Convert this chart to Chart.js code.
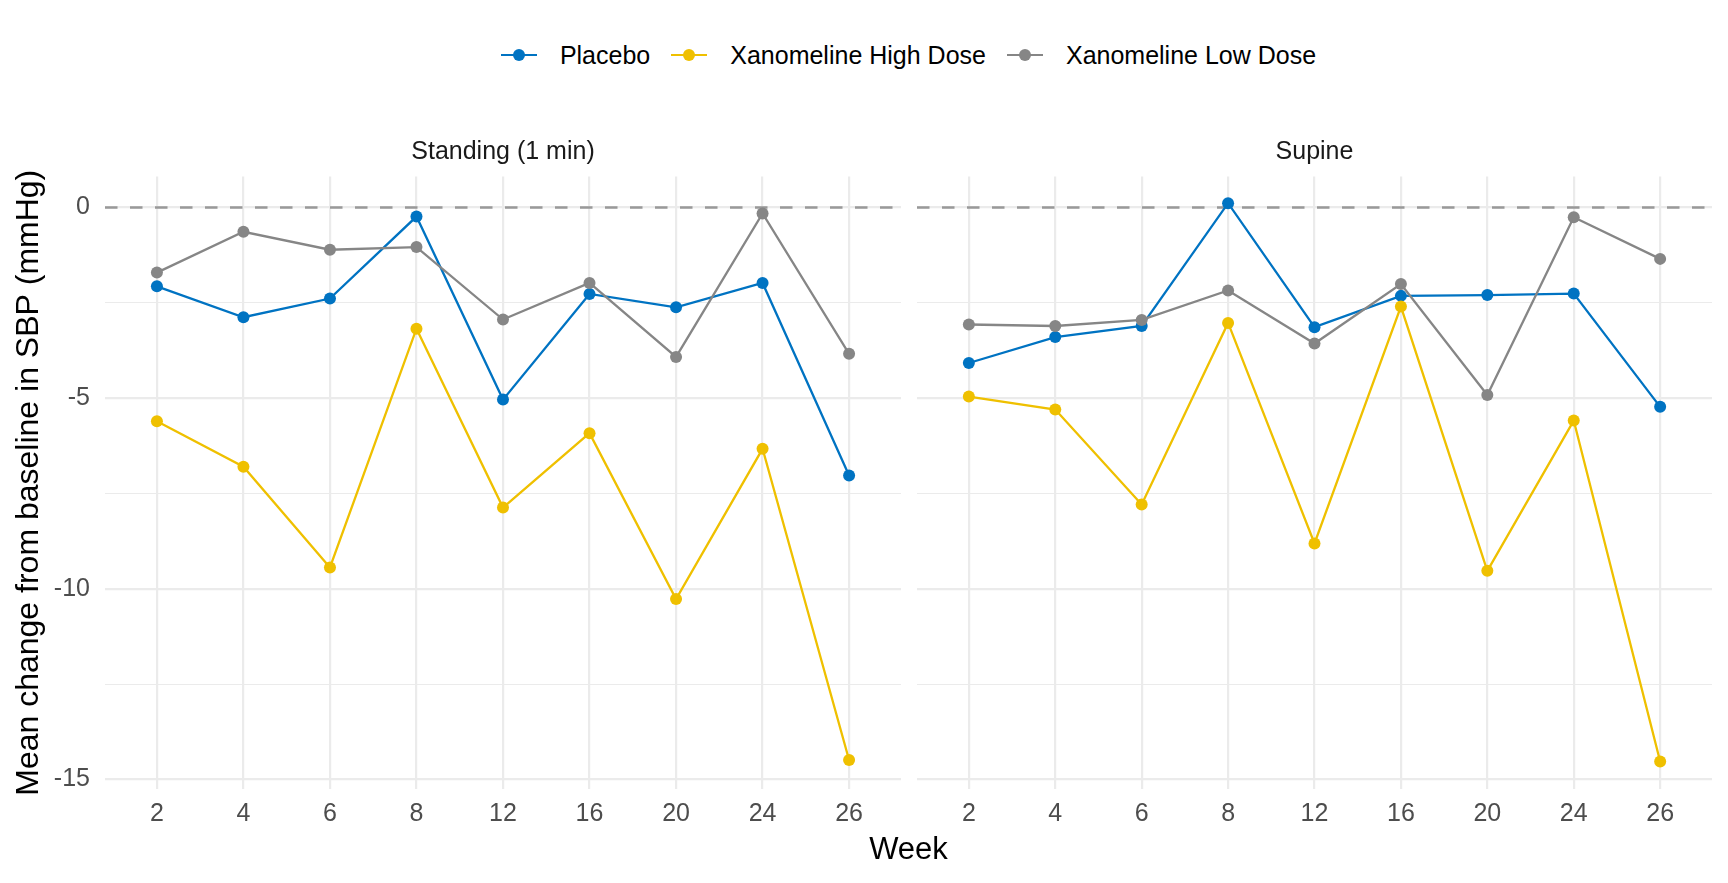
<!DOCTYPE html>
<html>
<head>
<meta charset="utf-8">
<script src="https://cdn.jsdelivr.net/npm/chart.js@4/dist/chart.umd.min.js"></script>
<style>
    body { margin: 0; background: #fff; font-family: "Liberation Sans", Arial, sans-serif; }
    #page { position: relative; width: 1728px; height: 883px; overflow: hidden; }
    .panel { position: absolute; top: 136px; height: 713px; }
    #legend {
        position: absolute; left: 105px; width: 1607px; top: 42.5px;
        display: flex; justify-content: center; align-items: center;
        font-size: 25px; line-height: 25px; color: #000;
    }
    .item { display: flex; align-items: center; margin: 0 10.5px; }
    .key { position: relative; width: 36px; height: 25px; margin-right: 23px; }
    .key .ln { position: absolute; left: 0; right: 0; top: 11.4px; height: 2.3px; }
    .key .dot { position: absolute; left: 12px; top: 6.5px; width: 12px; height: 12px; border-radius: 50%; }
    #xtitle {
        position: absolute; left: 105px; width: 1607px; top: 833px;
        text-align: center; font-size: 31px; line-height: 31px; color: #000;
    }
</style>
</head>
<body>
<div id="page">
    <div id="legend"></div>
    <div class="panel" style="left:0; width:901px;"><canvas id="standingChart"></canvas></div>
    <div class="panel" style="left:917px; width:795px;"><canvas id="supineChart"></canvas></div>
    <div id="xtitle">Week</div>
</div>
<script>
// --- Data ---
const weeks = [2, 4, 6, 8, 12, 16, 20, 24, 26];
const seriesNames = ['Placebo', 'Xanomeline High Dose', 'Xanomeline Low Dose'];
const seriesColors = ['#0073C2', '#EFC000', '#868686'];

const standingPlacebo = [-2.07, -2.88, -2.39, -0.24, -5.04, -2.27, -2.62, -1.98, -7.03];
const standingHigh    = [-5.61, -6.80, -9.44, -3.18, -7.87, -5.92, -10.27, -6.33, -14.49];
const standingLow     = [-1.71, -0.64, -1.11, -1.04, -2.94, -1.98, -3.92, -0.16, -3.84];

const supinePlacebo = [-4.08, -3.40, -3.11, 0.11, -3.14, -2.32, -2.30, -2.26, -5.23];
const supineHigh    = [-4.96, -5.30, -7.79, -3.03, -8.81, -2.60, -9.53, -5.59, -14.53];
const supineLow     = [-3.07, -3.11, -2.95, -2.18, -3.57, -2.01, -4.92, -0.26, -1.35];

const yTicks = [-15, -12.5, -10, -7.5, -5, -2.5, 0];
const yMin = -15.25, yMax = 0.81;
const xMin = -0.6, xMax = weeks.length - 1 + 0.6;
const refValue = 0;

Chart.defaults.font.family = '"Liberation Sans", Arial, sans-serif';

// --- Legend ---
const legendEl = document.getElementById('legend');
seriesNames.forEach((name, i) => {
    const item = document.createElement('div');
    item.className = 'item';
    item.innerHTML = `<span class="key"><span class="ln" style="background:${seriesColors[i]}"></span>` +
        `<span class="dot" style="background:${seriesColors[i]}"></span></span><span>${name}</span>`;
    legendEl.appendChild(item);
});

function toPoints(values) {
    return values.map((v, i) => ({ x: i, y: v }));
}

function makeChart(canvasId, title, values, showY) {
    const ctx = document.getElementById(canvasId).getContext('2d');
    const datasets = values.map((vals, i) => ({
        label: seriesNames[i],
        data: toPoints(vals),
        borderColor: seriesColors[i],
        backgroundColor: seriesColors[i],
        borderWidth: 2.3,
        pointRadius: 6,
        pointBorderWidth: 0,
        tension: 0,
        order: 3 - i
    }));
    // dashed reference line at zero
    datasets.push({
        label: 'ref',
        data: [{ x: xMin, y: refValue }, { x: xMax, y: refValue }],
        borderColor: '#999999',
        borderWidth: 2.5,
        borderDash: [12.5, 12.5],
        pointRadius: 0,
        order: 10
    });

    return new Chart(ctx, {
        type: 'line',
        data: { datasets },
        options: {
            responsive: true,
            maintainAspectRatio: false,
            animation: false,
            events: [],
            layout: { padding: 0, autoPadding: false },
            plugins: {
                legend: { display: false },
                tooltip: { enabled: false },
                title: {
                    display: true,
                    text: title,
                    fullSize: false,
                    color: '#1A1A1A',
                    font: { size: 25, weight: 'normal' },
                    padding: { top: 1, bottom: 9.5 }
                }
            },
            scales: {
                x: {
                    type: 'linear',
                    min: xMin,
                    max: xMax,
                    afterBuildTicks: s => { s.ticks = weeks.map((w, i) => ({ value: i })); },
                    afterFit: s => { s.height = 60; s.paddingLeft = 0; s.paddingRight = 0; },
                    border: { display: false },
                    grid: { color: '#EBEBEB', lineWidth: 2.2, drawTicks: false },
                    ticks: {
                        padding: 10,
                        color: '#4D4D4D',
                        font: { size: 25 },
                        maxRotation: 0,
                        autoSkip: false,
                        callback: v => weeks[v]
                    }
                },
                y: {
                    min: yMin,
                    max: yMax,
                    afterBuildTicks: s => { s.ticks = yTicks.map(v => ({ value: v })); },
                    afterFit: s => { s.width = showY ? 105 : 0; s.paddingTop = 0; s.paddingBottom = 0; },
                    border: { display: false },
                    grid: {
                        color: '#EBEBEB',
                        lineWidth: c => (c.tick && c.tick.value % 5 === 0) ? 2.2 : 1.1,
                        drawTicks: false
                    },
                    ticks: {
                        display: showY,
                        padding: 15,
                        color: '#4D4D4D',
                        font: { size: 25 },
                        autoSkip: false,
                        callback: v => (v % 5 === 0) ? String(v) : ''
                    },
                    title: {
                        display: showY,
                        text: 'Mean change from baseline in SBP (mmHg)',
                        color: '#000',
                        font: { size: 32 },
                        padding: { top: 10, bottom: 0 }
                    }
                }
            }
        }
    });
}

makeChart('standingChart', 'Standing (1 min)', [standingPlacebo, standingHigh, standingLow], true);
makeChart('supineChart', 'Supine', [supinePlacebo, supineHigh, supineLow], false);
</script>
</body>
</html>
